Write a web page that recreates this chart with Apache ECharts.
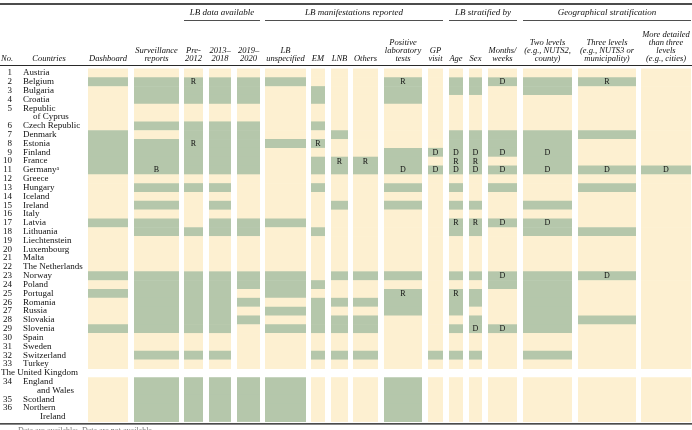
<!DOCTYPE html>
<html><head><meta charset="utf-8">
<script src="https://cdn.jsdelivr.net/npm/echarts@6/dist/echarts.min.js"></script>
<style>html,body{margin:0;padding:0;background:#fff}#c{width:692px;height:430px}</style>
</head><body><div id="c"></div>
<script>
// ---------- DATA ----------
const countryNo = ['1','2','3','4','5','6','7','8','9','10','11','12','13','14','15','16','17','18','19','20','21','22','23','24','25','26','27','28','29','30','31','32','33','34','35','36'];
const countryNames = ['Austria','Belgium','Bulgaria','Croatia','Republic\nof Cyprus','Czech Republic','Denmark','Estonia','Finland','France','Germany','Greece','Hungary','Iceland','Ireland','Italy','Latvia','Lithuania','Liechtenstein','Luxembourg','Malta','The Netherlands','Norway','Poland','Portugal','Romania','Russia','Slovakia','Slovenia','Spain','Sweden','Switzerland','Turkey','England\nand Wales','Scotland','Northern\nIreland'];
const footnoteMark = {10: 'a'};           // Germany^a
const groupRowBefore = {33: 'The United Kingdom'};

const groupHeaders = ['LB data available','LB manifestations reported','LB stratified by','Geographical stratification'];
const columnHeaders = [
  ['Dashboard'], ['Surveillance','reports'], ['Pre-','2012'], ['2013–','2018'], ['2019–','2020'],
  ['LB','unspecified'], ['EM'], ['LNB'], ['Others'], ['Positive','laboratory','tests'], ['GP','visit'],
  ['Age'], ['Sex'], ['Months/','weeks'], ['Two levels','(e.g., NUTS2,','county)'],
  ['Three levels','(e.g., NUTS3 or','municipality)'], ['More detailed','than three','levels','(e.g., cities)']
];
const footnoteText = 'Data are available;  Data are not available';

// 0 = not available, 1 = available, letter = available with note
const dashboard     = [0,1,0,0,0,0,1,1,1,1,1,0,0,0,0,0,1,0,0,0,0,0,1,0,1,0,0,0,1,0,0,0,0,0,0,0];
const surveillance  = [0,1,1,1,0,1,0,1,1,1,'B',0,1,0,1,0,1,1,0,0,0,0,1,1,1,1,1,1,1,0,0,1,0,1,1,1];
const pre2012       = [0,'R',1,1,0,1,1,'R',1,1,1,0,1,0,0,0,0,1,0,0,0,0,1,1,1,1,1,1,1,0,0,1,0,1,1,1];
const y2013_2018    = [0,1,1,1,0,1,1,1,1,1,1,0,1,0,1,0,1,1,0,0,0,0,1,1,1,1,1,1,1,0,0,1,0,1,1,1];
const y2019_2020    = [0,1,1,1,0,1,1,1,1,1,1,0,0,0,0,0,1,1,0,0,0,0,1,1,0,1,0,1,0,0,0,0,0,1,1,1];
const lbUnspecified = [0,1,0,0,0,0,0,1,0,0,0,0,0,0,0,0,1,0,0,0,0,0,1,1,1,0,1,0,1,0,0,0,0,1,1,1];
const em            = [0,0,1,1,0,1,0,'R',0,1,1,0,1,0,0,0,0,1,0,0,0,0,0,1,0,1,1,1,1,0,0,1,0,0,0,0];
const lnb           = [0,0,0,0,0,0,1,0,0,'R',1,0,0,0,1,0,0,0,0,0,0,0,1,0,0,1,0,1,1,0,0,1,0,0,0,0];
const others        = [0,0,0,0,0,0,0,0,0,'R',1,0,0,0,0,0,0,0,0,0,0,0,1,0,0,1,0,1,1,0,0,1,0,0,0,0];
const positiveLab   = [0,'R',1,1,0,0,0,0,1,1,'D',0,1,0,1,0,0,0,0,0,0,0,1,0,'R',1,1,0,0,0,0,0,0,1,1,1];
const gpVisit       = [0,0,0,0,0,0,0,0,'D',0,'D',0,0,0,0,0,0,0,0,0,0,0,0,0,0,0,0,0,0,0,0,1,0,0,0,0];
const age           = [0,1,1,0,0,0,1,1,'D','R','D',0,1,0,1,0,'R',1,0,0,0,0,1,0,'R',1,1,0,1,0,0,1,0,0,0,0];
const sex           = [0,1,1,0,0,0,1,1,'D','R','D',0,0,0,1,0,'R',1,0,0,0,0,1,0,1,1,0,1,'D',0,0,1,0,0,0,0];
const monthsWeeks   = [0,'D',0,0,0,0,1,1,'D',0,'D',0,1,0,0,0,'D',0,0,0,0,0,'D',1,0,0,0,0,'D',0,0,0,0,0,0,0];
const twoLevels     = [0,1,1,0,0,0,1,1,'D',1,'D',0,0,0,1,0,'D',1,0,0,0,0,1,1,1,1,1,1,1,0,0,1,0,0,0,0];
const threeLevels   = [0,'R',0,0,0,0,1,0,0,0,'D',0,1,0,0,0,0,1,0,0,0,0,'D',0,0,0,0,1,0,0,0,0,0,0,0,0];
const moreDetailed  = [0,0,0,0,0,0,0,0,0,0,'D',0,0,0,0,0,0,0,0,0,0,0,0,0,0,0,0,0,0,0,0,0,0,0,0,0];

const statusByColumn = [dashboard,surveillance,pre2012,y2013_2018,y2019_2020,lbUnspecified,em,lnb,others,positiveLab,gpVisit,age,sex,monthsWeeks,twoLevels,threeLevels,moreDetailed];

// ---------- LAYOUT ----------
const colEdges = [[88,128],[134,179],[184,203],[209,231],[237,260],[265,306],[311,325],[331,348],[353,378],[384,422],[428,443],[449,463],[469,482],[488,517],[523,572],[578,636],[641,691]];
const groupSpans = [[2,4],[5,10],[11,13],[14,16]];
const secondLineIndent = {4:10, 33:14, 35:17};
const TOP = 68.5, BOTTOM = 421.3;
const GREEN = '#b5c7ab', BEIGE = '#fdf0d1';
const SERIF = '"Liberation Serif", "Times New Roman", serif';

// line positions (in row-line units)
const lineStart = [], lineCount = [];
let ln = 0; const groupRowLine = {};
countryNames.forEach((n,i)=>{
  if (groupRowBefore[i]) { groupRowLine[i] = ln; ln += 1; }
  lineStart.push(ln); const c = n.split('\n').length; lineCount.push(c); ln += c;
});
const TOTAL_LINES = ln;

const cellData = [];
statusByColumn.forEach((arr,c)=>arr.forEach((v,r)=>cellData.push([c,r])));

function txt(text, x, y, font, align, fill){
  return {type:'text', z2:10, style:{text, x, y, font, fill: fill||'#111', align: align||'center', verticalAlign:'middle', textAlign: align||'center', textVerticalAlign:'middle'}};
}
function gtxt(text, x, y, font, align, fill){
  return {type:'text', style:{text, x, y, font, fill: fill||'#111', textAlign:align||'center', textVerticalAlign:'middle', align:align||'center', verticalAlign:'middle'}};
}

// ---------- HEADER GRAPHICS ----------
const graphics = [];
const HFONT = 'italic 8.5px ' + SERIF;
const LASTH = 59, HSTEP = 8;
columnHeaders.forEach((lines,c)=>{
  const cx = (colEdges[c][0]+colEdges[c][1])/2;
  lines.forEach((t,k)=>graphics.push(gtxt(t, cx, LASTH-(lines.length-1-k)*HSTEP, HFONT)));
});
graphics.push(gtxt('No.', 1, LASTH, HFONT, 'left'));
graphics.push(gtxt('Countries', 49, LASTH, HFONT));
groupSpans.forEach((s,g)=>{
  const x0 = colEdges[s[0]][0], x1 = colEdges[s[1]][1];
  graphics.push(gtxt(groupHeaders[g], (x0+x1)/2, 13, 'italic 9px '+SERIF));
  graphics.push({type:'line', shape:{x1:x0, y1:20.5, x2:x1, y2:20.5}, style:{stroke:'#222', lineWidth:0.8}});
});
graphics.push({type:'line', shape:{x1:0, y1:4, x2:692, y2:4}, style:{stroke:'#111', lineWidth:1.3}});
graphics.push({type:'line', shape:{x1:0, y1:65.5, x2:692, y2:65.5}, style:{stroke:'#111', lineWidth:0.9}});
graphics.push({type:'line', shape:{x1:0, y1:423.8, x2:692, y2:423.8}, style:{stroke:'#111', lineWidth:1.3}});
graphics.push(gtxt(footnoteText, 18, 431, '8px '+SERIF, 'left', '#777'));

const chart = echarts.init(document.getElementById('c'), null, {renderer:'canvas'});
chart.setOption({
  animation:false,
  backgroundColor:'#fff',
  grid:{left:0, right:0, top:TOP, bottom:430-BOTTOM},
  xAxis:{type:'value', min:0, max:692, show:false},
  yAxis:{type:'value', min:0, max:TOTAL_LINES, inverse:true, show:false},
  graphic: graphics,
  series:[
    {
      type:'custom', data:cellData, clip:false,
      renderItem(params, api){
        const c = api.value(0), r = api.value(1);
        const st = statusByColumn[c][r];
        const p0 = api.coord([colEdges[c][0], lineStart[r]]);
        const p1 = api.coord([colEdges[c][1], lineStart[r]+lineCount[r]]);
        const ch = [{type:'rect', shape:{x:p0[0], y:p0[1], width:p1[0]-p0[0], height:p1[1]-p0[1]+0.6}, style:{fill: st ? GREEN : BEIGE}}];
        if (typeof st === 'string') ch.push(txt(st, (p0[0]+p1[0])/2, (p0[1]+p1[1])/2+0.3, '8px '+SERIF));
        return {type:'group', children:ch};
      }
    },
    {
      type:'custom', data:countryNames.map((n,i)=>[0,i]), clip:false,
      renderItem(params, api){
        const r = params.dataIndex;
        const font = '9px ' + SERIF;
        const ch = [];
        const lines = countryNames[r].split('\n');
        const pNo = api.coord([12, lineStart[r]+0.5]);
        ch.push(txt(countryNo[r], pNo[0], pNo[1], font, 'right'));
        lines.forEach((t,k)=>{
          const p = api.coord([23 + (k>0 ? secondLineIndent[r] : 0), lineStart[r]+k+0.5]);
          if (k===0 && footnoteMark[r]) {
            ch.push({type:'text', z2:10, style:{text:'{n|'+t+'}{s|'+footnoteMark[r]+'}', x:p[0], y:p[1], fill:'#111', align:'left', verticalAlign:'middle', textAlign:'left', textVerticalAlign:'middle',
              rich:{n:{font:font, lineHeight:9, verticalAlign:'middle'}, s:{font:'5.5px '+SERIF, lineHeight:9, verticalAlign:'top'}}}});
          } else {
            ch.push(txt(t, p[0], p[1], font, 'left'));
          }
        });
        if (groupRowLine[r] !== undefined) {
          const pg = api.coord([1, groupRowLine[r]+0.5]);
          ch.push(txt(groupRowBefore[r], pg[0], pg[1], font, 'left'));
        }
        return {type:'group', children:ch};
      }
    }
  ]
});
</script></body></html>
